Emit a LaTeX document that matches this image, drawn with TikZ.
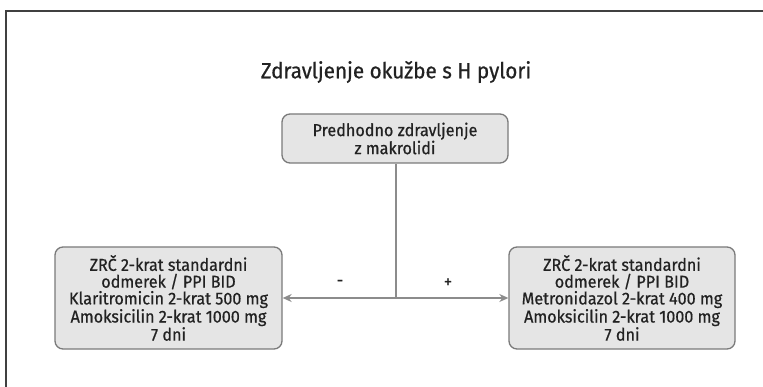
\documentclass[tikz,border=0pt]{standalone}
\usepackage{fontspec}
\setmainfont{Fira Sans}[FakeBold=0.6, FakeStretch=0.94]
\usetikzlibrary{arrows.meta}
\definecolor{boxfill}{HTML}{E5E5E5}
\definecolor{boxline}{HTML}{7A7A7A}
\definecolor{txt}{HTML}{222222}
\definecolor{arrowgray}{HTML}{8C8C8C}
\begin{document}
\begin{tikzpicture}[x=1pt,y=-1pt,
  stepbox/.style={draw=boxline, fill=boxfill, line width=1.3pt, rounded corners=8pt,
    text=txt, align=center, font=\fontsize{17.2}{16.8}\selectfont, inner sep=0pt},
  conn/.style={draw=arrowgray, line width=1.3pt},
  arr/.style={conn, -{Stealth[length=9pt,width=8pt]}},
  sign/.style={text=txt, font=\fontsize{18}{18}\selectfont}]
\useasboundingbox (0,0) rectangle (763,387);
% cropped outer frame
\draw[line width=1.5pt, color=black!75] (6,387) -- (6,11) -- (763,11);
% title
\node[text=txt, font=\fontsize{22}{26}\selectfont] (title) at (396,72) {Zdravljenje okužbe s H pylori};
% boxes
\node[stepbox, minimum width=226pt, minimum height=49pt] (prev) at (395,138.5)
  {Predhodno zdravljenje\\z makrolidi};
\node[stepbox, minimum width=227pt, minimum height=102pt] (left) at (168.5,298)
  {ZRČ 2-krat standardni\\odmerek / PPI BID\\Klaritromicin 2-krat 500 mg\\Amoksicilin 2-krat 1000 mg\\7 dni};
\node[stepbox, minimum width=226pt, minimum height=102pt] (right) at (622,298)
  {ZRČ 2-krat standardni\\odmerek / PPI BID\\Metronidazol 2-krat 400 mg\\Amoksicilin 2-krat 1000 mg\\7 dni};
% connectors
\coordinate (split) at (396,298);
\draw[conn] (prev.south -| split) -- (split);
\draw[arr] (split) -- (left.east);
\draw[arr] (split) -- (right.west);
\node[sign] (minus) at (340,283) {-};
\node[sign] (plus) at (448,283) {+};
\end{tikzpicture}
\end{document}
